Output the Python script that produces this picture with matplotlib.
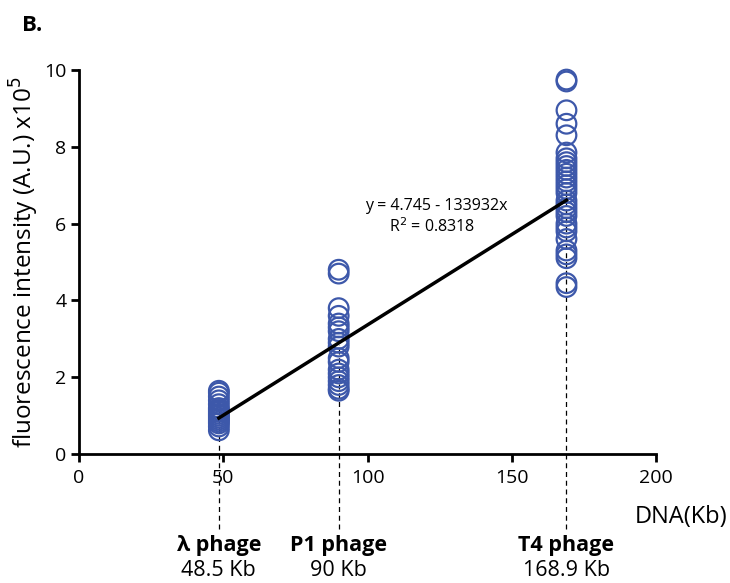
import matplotlib.pyplot as plt
import numpy as np

plt.rcParams['font.family'] = ['Open Sans', 'DejaVu Sans']

# DNA sizes (Kb) and measured intensities (x10^5)
phage_names = ['λ phage', 'P1 phage', 'T4 phage']
phage_sizes = [48.5, 90, 168.9]
size_labels = ['48.5 Kb', '90 Kb', '168.9 Kb']

lambda_vals = [0.62, 0.72, 0.8, 0.85, 0.9, 0.95, 1.0, 1.05, 1.1, 1.15,
               1.2, 1.3, 1.4, 1.5, 1.6, 1.65]
p1_vals = [4.8, 4.7, 3.8, 3.6, 3.4, 3.3, 3.2, 3.0, 2.9, 2.8, 2.5, 2.4,
           2.2, 2.1, 2.0, 1.9, 1.8, 1.7, 1.65]
t4_vals = [9.75, 9.7, 8.95, 8.6, 8.3, 7.85, 7.7, 7.6, 7.5, 7.4, 7.3, 7.2,
           7.1, 7.0, 6.9, 6.8, 6.6, 6.5, 6.4, 6.3, 6.2, 6.0, 5.9, 5.8,
           5.6, 5.3, 5.2, 5.1, 4.45, 4.35]

fit_x = [48.5, 168.9]
fit_y = [0.94, 6.61]

blue = '#3d58aa'

fig = plt.figure(figsize=(7.3, 5.83), dpi=100)
ax = fig.add_axes([0.108, 0.221, 0.791, 0.659])

groups = [lambda_vals, p1_vals, t4_vals]
for x, vals in zip(phage_sizes, groups):
    ax.plot([x, x], [-1.95, np.mean(vals)], ls=(0, (4, 3)), color='black',
            lw=0.9, clip_on=False, zorder=1)
    ax.scatter(np.full(len(vals), x), vals, s=200, facecolors='none',
               edgecolors=blue, linewidths=1.6, clip_on=False, zorder=2)

ax.plot(fit_x, fit_y, color='black', lw=2.5, zorder=3)

fig.text(0.597, 0.647, 'y = 4.745 - 133932x', ha='center', va='center',
         fontsize=11.5)
fig.text(0.592, 0.612, 'R$^2$ = 0.8318', ha='center', va='center',
         fontsize=11.5)

ax.set_xlim(0, 200)
ax.set_ylim(0, 10)
ax.set_xticks([0, 50, 100, 150, 200])
ax.set_yticks([0, 2, 4, 6, 8, 10])
for s in ['top', 'right']:
    ax.spines[s].set_visible(False)
for s in ['left', 'bottom']:
    ax.spines[s].set_linewidth(2)
ax.tick_params(width=2, length=6, labelsize=14)
ax.tick_params(axis='x', pad=5)
ax.tick_params(axis='y', pad=3)
ax.set_ylabel('fluorescence intensity (A.U.) x10$^5$', fontsize=17.5,
              labelpad=2)

# labels under the axis (offsets in points, 1 pt = 100/72 px)
for x, name, lab in zip(phage_sizes, phage_names, size_labels):
    ax.annotate(name, (x, 0), xycoords='data', xytext=(0, -65.5),
                textcoords='offset points', ha='center', va='center',
                fontsize=15.5, fontweight='bold', annotation_clip=False)
    ax.annotate(lab, (x, 0), xycoords='data', xytext=(0, -83.5),
                textcoords='offset points', ha='center', va='center',
                fontsize=15.5, annotation_clip=False)

fig.text(0.997, 0.113, 'DNA(Kb)', ha='right', va='center', fontsize=17)
fig.text(0.03, 0.957, 'B.', ha='left', va='center', fontsize=16,
         fontweight='bold')

fig.savefig('out.png', dpi=100)
